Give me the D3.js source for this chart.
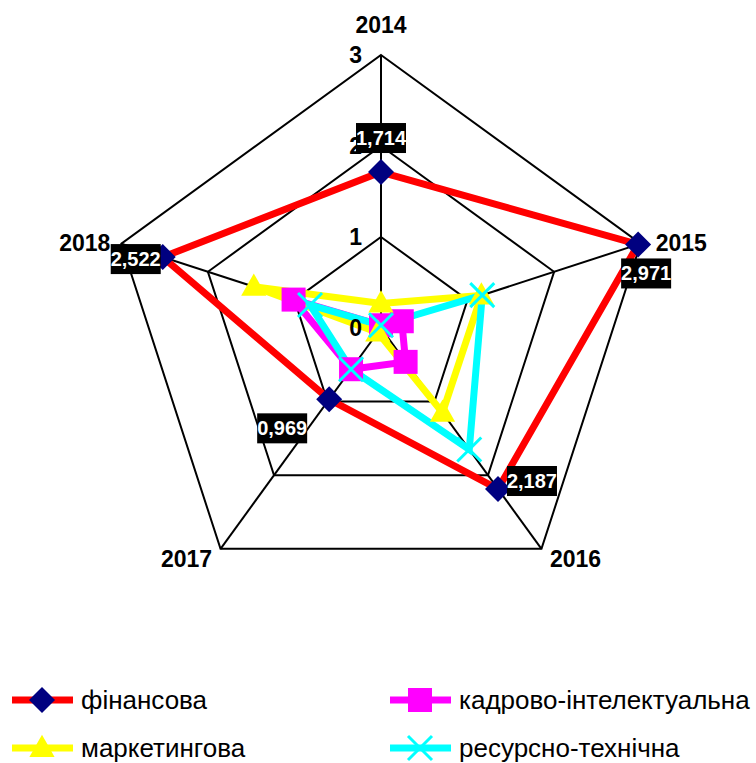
<!DOCTYPE html>
<html lang="uk">
<head>
<meta charset="UTF-8">
<title>Radar</title>
<script src="https://d3js.org/d3.v7.min.js"></script>
<style>
  body { margin: 0; background: #fff; }
  svg { display: block; font-family: "Liberation Sans Narrow", "Arial Narrow", "Liberation Sans", Arial, sans-serif; }
</style>
</head>
<body>
<div id="chart"></div>
<script>
// years on the spokes
const years = ['2014', '2015', '2016', '2017', '2018'];
const ticks = [0, 1, 2, 3];

// series values
const finansova = [1.714, 2.971, 2.187, 0.969, 2.522];
const kadrova = [0.03, 0.24, 0.46, 0.56, 1.01];
const marketyngova = [0.27, 1.16, 1.15, 0.06, 1.47];
const resursna = [0.03, 1.17, 1.65, 0.56, 0.82];

const series = [
  { name: 'фінансова', values: finansova, line: '#ff0000', mark: '#000080', shape: 'diamond' },
  { name: 'кадрово-інтелектуальна', values: kadrova, line: '#ff00ff', mark: '#ff00ff', shape: 'square' },
  { name: 'маркетингова', values: marketyngova, line: '#ffff00', mark: '#ffff00', shape: 'triangle' },
  { name: 'ресурсно-технічна', values: resursna, line: '#00ffff', mark: '#00ffff', shape: 'x' }
];

const W = 756, H = 763;
const cx = 381, cy = 328;

const svg = d3.select('#chart').append('svg')
  .attr('width', W).attr('height', H);

const r = d3.scaleLinear().domain([0, 3]).range([0, 273]);
const angle = d3.scalePoint().domain(years).range([0, 2 * Math.PI * 4 / 5]);

function pt(year, v) {
  const a = angle(year);
  return [cx + r(v) * Math.sin(a), cy - r(v) * Math.cos(a)];
}

const g = svg.append('g');

// grid pentagons
ticks.filter(t => t > 0).forEach(t => {
  g.append('path')
    .attr('d', d3.line()(years.map(y => pt(y, t))) + 'Z')
    .attr('fill', 'none').attr('stroke', '#000').attr('stroke-width', 2);
});
// spokes
years.forEach(y => {
  const p = pt(y, 3);
  g.append('line').attr('x1', cx).attr('y1', cy).attr('x2', p[0]).attr('y2', p[1])
    .attr('stroke', '#000').attr('stroke-width', 2);
});

// spoke names
const yearPos = {
  '2014': { dx: 0, dy: -22, anchor: 'middle' },
  '2015': { dx: 15, dy: 7, anchor: 'start' },
  '2016': { dx: 34, dy: 18, anchor: 'middle' },
  '2017': { dx: -34, dy: 18, anchor: 'middle' },
  '2018': { dx: -11, dy: 7, anchor: 'end' }
};
years.forEach(y => {
  const p = pt(y, 3), o = yearPos[y];
  g.append('text').attr('x', p[0] + o.dx).attr('y', p[1] + o.dy)
    .attr('text-anchor', o.anchor).attr('font-size', 23).attr('font-weight', 'bold')
    .text(y);
});

function marker(sel, shape, color, x, y, s) {
  if (shape === 'diamond') {
    sel.append('path').attr('d', `M${x},${y - s}L${x + s},${y}L${x},${y + s}L${x - s},${y}Z`).attr('fill', color);
  } else if (shape === 'square') {
    sel.append('rect').attr('x', x - s).attr('y', y - s).attr('width', 2 * s).attr('height', 2 * s).attr('fill', color);
  } else if (shape === 'triangle') {
    sel.append('path').attr('d', `M${x},${y - s * 1.1}L${x + s * 1.05},${y + s * 0.75}L${x - s * 1.05},${y + s * 0.75}Z`).attr('fill', color);
  } else {
    sel.append('path').attr('d', `M${x - s},${y - s}L${x + s},${y + s}M${x + s},${y - s}L${x - s},${y + s}`)
      .attr('stroke', color).attr('stroke-width', 3);
  }
}

// series lines
series.forEach(s => {
  g.append('path')
    .attr('d', d3.line()(years.map((y, i) => pt(y, s.values[i]))) + 'Z')
    .attr('fill', 'none').attr('stroke', s.line).attr('stroke-width', 7)
    .attr('stroke-linejoin', 'miter');
});
// markers
series.forEach(s => {
  years.forEach((y, i) => {
    const p = pt(y, s.values[i]);
    marker(g, s.shape, s.mark, p[0], p[1], s.shape === 'diamond' ? 13 : 12);
  });
});

// tick labels left of the 2014 spoke
ticks.forEach(t => {
  const p = pt('2014', t);
  g.append('text').attr('x', p[0] - 19).attr('y', p[1] + 8)
    .attr('text-anchor', 'end').attr('font-size', 23).attr('font-weight', 'bold')
    .text(t);
});

// data labels of фінансова
const labelOff = [[0, -34], [8, 29], [34, -8], [-47, 29], [-27, 2]];
finansova.forEach((v, i) => {
  const p = pt(years[i], v);
  const x = p[0] + labelOff[i][0], y = p[1] + labelOff[i][1];
  g.append('rect').attr('x', x - 25).attr('y', y - 15).attr('width', 50).attr('height', 30).attr('fill', '#000');
  g.append('text').attr('x', x).attr('y', y + 7)
    .attr('text-anchor', 'middle').attr('font-size', 20).attr('font-weight', 'bold')
    .attr('fill', '#fff').text(v.toFixed(3).replace('.', ','));
});

// legend, filled row by row
const legend = svg.append('g');
series.forEach((s, i) => {
  const col = i % 2, row = Math.floor(i / 2);
  const x0 = col === 0 ? 12 : 390, y0 = 700 + row * 48;
  legend.append('line').attr('x1', x0).attr('y1', y0).attr('x2', x0 + 61).attr('y2', y0)
    .attr('stroke', s.line).attr('stroke-width', 7);
  marker(legend, s.shape, s.mark, x0 + 30, y0, s.shape === 'diamond' ? 13 : 12);
  legend.append('text').attr('x', x0 + 69).attr('y', y0 + 9)
    .attr('font-size', 26).text(s.name);
});
</script>
</body>
</html>
